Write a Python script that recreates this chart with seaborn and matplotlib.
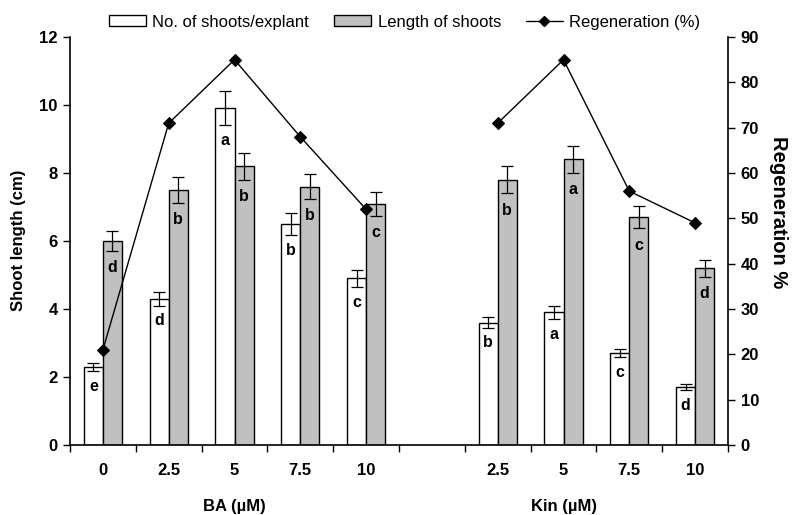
import matplotlib
matplotlib.use("Agg")
import matplotlib.pyplot as plt
import seaborn as sns
import numpy as np
import pandas as pd
from matplotlib.patches import Patch
from matplotlib.lines import Line2D

# ---- data ----
categories = ["BA 0", "BA 2.5", "BA 5", "BA 7.5", "BA 10", "gap",
              "Kin 2.5", "Kin 5", "Kin 7.5", "Kin 10"]
tick_labels = ["0", "2.5", "5", "7.5", "10", "", "2.5", "5", "7.5", "10"]
groups = ["BA", "BA", "BA", "BA", "BA", None, "Kin", "Kin", "Kin", "Kin"]

shoots = [2.3, 4.3, 9.9, 6.5, 4.9, np.nan, 3.6, 3.9, 2.7, 1.7]
shoots_err = [0.12, 0.2, 0.5, 0.33, 0.25, np.nan, 0.15, 0.2, 0.12, 0.08]
shoots_letters = ["e", "d", "a", "b", "c", "", "b", "a", "c", "d"]

length = [6.0, 7.5, 8.2, 7.6, 7.1, np.nan, 7.8, 8.4, 6.7, 5.2]
length_err = [0.3, 0.37, 0.4, 0.37, 0.35, np.nan, 0.4, 0.4, 0.33, 0.25]
length_letters = ["d", "b", "b", "b", "c", "", "b", "a", "c", "d"]

regeneration = [21, 71, 85, 68, 52, np.nan, 71, 85, 56, 49]

series_names = ["No. of shoots/explant", "Length of shoots"]

# ---- frame ----
rows = []
for i, c in enumerate(categories):
    rows.append(dict(cat=c, series=series_names[0], val=shoots[i]))
    rows.append(dict(cat=c, series=series_names[1], val=length[i]))
df = pd.DataFrame(rows)

sns.set_theme(style="white")
plt.rcParams["font.family"] = ["Liberation Sans", "DejaVu Sans"]
plt.rcParams["text.color"] = "black"
plt.rcParams["axes.labelcolor"] = "black"
plt.rcParams["xtick.color"] = "black"
plt.rcParams["ytick.color"] = "black"

fig = plt.figure(figsize=(7.92, 5.15), dpi=100)
ax = fig.add_axes([0.0884, 0.136, 0.8308, 0.792])

width = 0.58
sns.barplot(data=df, x="cat", y="val", hue="series", order=categories,
            hue_order=series_names, palette=["white", "#C0C0C0"],
            edgecolor="black", linewidth=1.0, width=width, dodge=True,
            errorbar=None, legend=False, ax=ax, saturation=1)

off = width / 4
xs = np.arange(len(categories))
ax.errorbar(xs - off, shoots, yerr=shoots_err, fmt="none", ecolor="black",
            elinewidth=0.9, capsize=4.5, capthick=0.9, zorder=5)
ax.errorbar(xs + off, length, yerr=length_err, fmt="none", ecolor="black",
            elinewidth=0.9, capsize=4.5, capthick=0.9, zorder=5)

for i in range(len(categories)):
    if shoots_letters[i]:
        ax.annotate(shoots_letters[i], (xs[i] - off, shoots[i] - shoots_err[i]),
                    xytext=(0, -11), textcoords="offset points",
                    ha="center", va="center", fontsize=11.5, fontweight="bold",
                    color="black", zorder=6)
    if length_letters[i]:
        ax.annotate(length_letters[i], (xs[i] + off, length[i] - length_err[i]),
                    xytext=(0, -12), textcoords="offset points",
                    ha="center", va="center", fontsize=11.5, fontweight="bold",
                    color="black", zorder=6)

ax.set_xlim(-0.5, len(categories) - 0.5)
ax.set_ylim(0, 12)
ax.set_yticks([0, 2, 4, 6, 8, 10, 12])
ax.set_xticks(np.arange(len(categories) + 1) - 0.5)
ax.set_xticklabels([])
ax.set_xticks(xs, minor=True)
ax.set_xticklabels(tick_labels, minor=True)
ax.tick_params(axis="x", which="major", direction="out", length=5, width=1,
               color="black", bottom=True)
ax.tick_params(axis="x", which="minor", length=0, pad=13, labelsize=12,
               labelcolor="black")
ax.tick_params(axis="y", direction="out", length=5, width=1, color="black",
               left=True, labelsize=12, pad=4, labelcolor="black")
for lab in ax.get_xticklabels(minor=True) + ax.get_yticklabels():
    lab.set_fontweight("bold")

ax.set_xlabel("")
ax.set_ylabel("Shoot length (cm)", fontsize=12, fontweight="bold", color="black")
ax.yaxis.set_label_coords(-0.067, 0.502)
for s in ["top", "right"]:
    ax.spines[s].set_visible(False)
for s in ["left", "bottom"]:
    ax.spines[s].set_color("black")
    ax.spines[s].set_linewidth(1.2)

# group labels
ax.text(2, -0.15, "BA (µM)", transform=ax.get_xaxis_transform(),
        ha="center", va="center", fontsize=12, fontweight="bold", color="black")
ax.text(7, -0.15, "Kin (µM)", transform=ax.get_xaxis_transform(),
        ha="center", va="center", fontsize=12, fontweight="bold", color="black")

# regeneration line on twin axis
ax2 = ax.twinx()
reg_df = pd.DataFrame(dict(pos=xs, regen=regeneration, grp=groups)).dropna()
sns.lineplot(data=reg_df, x="pos", y="regen", units="grp", estimator=None,
             color="black", linewidth=1.0, marker="D", markersize=6,
             markeredgecolor="black", ax=ax2, sort=False)
ax2.set_ylim(0, 90)
ax2.set_yticks(np.arange(0, 91, 10))
ax2.set_xlim(-0.5, len(categories) - 0.5)
ax2.set_ylabel("Regeneration %", fontsize=14.5, fontweight="bold",
               rotation=270, va="center", color="black")
ax2.yaxis.set_label_coords(1.077, 0.571)
ax2.tick_params(axis="y", direction="out", length=5, width=1, color="black",
                right=True, labelsize=12, pad=4, labelcolor="black")
for lab in ax2.get_yticklabels():
    lab.set_fontweight("bold")
for s in ["top", "left", "bottom"]:
    ax2.spines[s].set_visible(False)
ax2.spines["right"].set_color("black")
ax2.spines["right"].set_linewidth(1.2)
ax2.set_xlabel("")

handles = [Patch(facecolor="white", edgecolor="black", linewidth=1),
           Patch(facecolor="#C0C0C0", edgecolor="black", linewidth=1),
           Line2D([0], [0], color="black", lw=1, marker="D", markersize=5)]
fig.legend(handles, ["No. of shoots/explant", "Length of shoots", "Regeneration (%)"],
           loc="center", bbox_to_anchor=(0.511, 0.957), ncol=3, frameon=False,
           fontsize=12, handlelength=2.2, handleheight=0.6, columnspacing=1.5,
           handletextpad=0.4, labelcolor="black")

fig.savefig("out.png", dpi=100)
